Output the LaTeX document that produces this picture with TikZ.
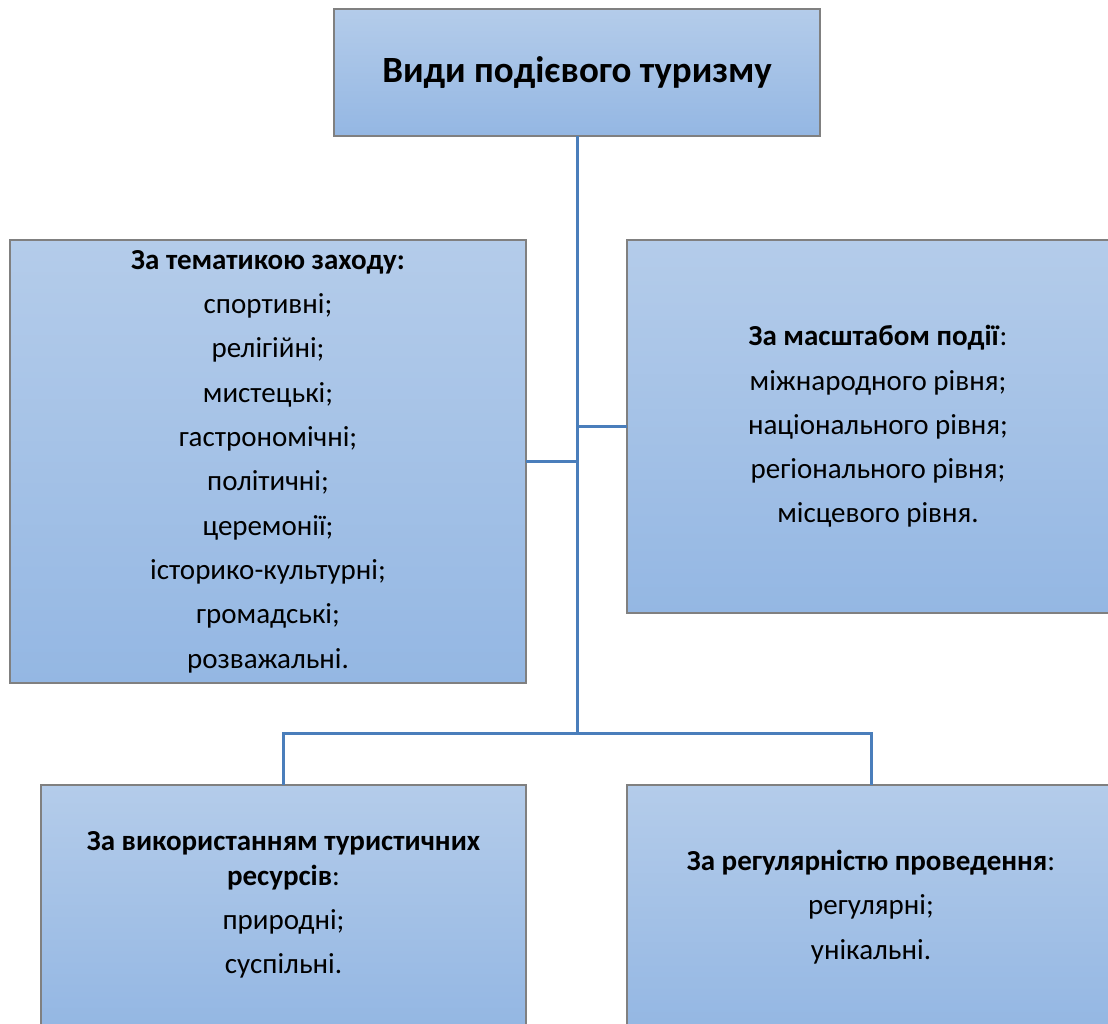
\documentclass[tikz,border=0pt]{standalone}
\usepackage{fontspec}
\setmainfont{Carlito}
\definecolor{boxtop}{RGB}{180,204,234}
\definecolor{boxbot}{RGB}{148,183,227}
\definecolor{boxline}{RGB}{128,128,128}
\definecolor{conn}{RGB}{74,126,187}
\begin{document}
\begin{tikzpicture}[x=1pt,y=-1pt,
  catbox/.style={draw=boxline,line width=1.2pt,top color=boxtop,bottom color=boxbot,
    anchor=north west,inner sep=0pt,outer sep=0pt,align=center,
    font=\fontsize{29}{44.3}\selectfont},
  link/.style={draw=conn,line width=3pt}]
\useasboundingbox (0,0) rectangle (1108,1023);
\clip (0,0) rectangle (1108,1023);
\node[catbox,minimum width=486pt,minimum height=127pt,font=\fontsize{37}{44}\selectfont\bfseries] (title) at (334,9) {Види подієвого туризму};
\node[catbox,minimum width=516pt,minimum height=443pt] (left) at (10,240)
  {\textbf{За тематикою заходу:}\\ спортивні;\\ релігійні;\\ мистецькі;\\ гастрономічні;\\ політичні;\\ церемонії;\\ історико-культурні;\\ громадські;\\ розважальні.};
\node[catbox,minimum width=502pt,minimum height=373pt] (right) at (627,240)
  {\textbf{За масштабом події}:\\ міжнародного рівня;\\ національного рівня;\\ регіонального рівня;\\ місцевого рівня.};
\node[catbox,minimum width=485pt,minimum height=240pt] (bl) at (41,785)
  {\textbf{За використанням туристичних}\\[-9.3pt] \textbf{ресурсів}:\\ природні;\\ суспільні.};
\node[catbox,minimum width=488pt,minimum height=244pt] (br) at (627,785)
  {\textbf{За регулярністю проведення}:\\ регулярні;\\ унікальні.};
\coordinate (bus) at (577,733);
\draw[link] (title.south) -- (bus);
\draw[link] (left.east) -- (left.east -| bus);
\draw[link] (right.west) -- (right.west -| bus);
\draw[link] (bl.north) |- (bus) -| (br.north);
\end{tikzpicture}
\end{document}
